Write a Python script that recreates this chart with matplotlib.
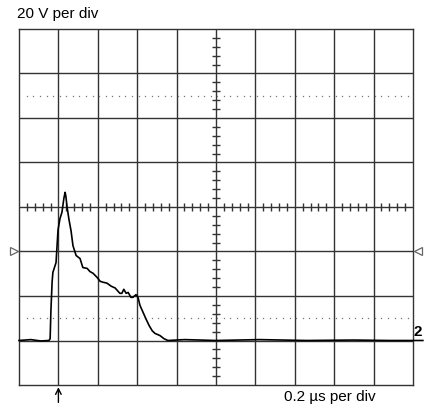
import numpy as np
import matplotlib
matplotlib.use("Agg")
import matplotlib.pyplot as plt

plt.rcParams['font.family'] = ['Liberation Sans', 'DejaVu Sans']

# screen: 10 x 8 divisions, trace (x, y in divisions)
trace_x = [0.00, 0.30, 0.55, 0.76, 0.79, 0.81, 0.84, 0.86, 0.94, 0.99, 1.04,
           1.09, 1.14, 1.17, 1.19, 1.22, 1.27, 1.32, 1.37, 1.45, 1.55, 1.62,
           1.73, 1.80, 1.88, 1.98, 2.06, 2.13, 2.23, 2.34, 2.44, 2.56, 2.61,
           2.66, 2.72, 2.77, 2.84, 2.89, 2.97, 3.02, 3.07, 3.15, 3.22, 3.30,
           3.38, 3.45, 3.58, 3.68, 3.78, 4.20, 5.00, 6.10, 7.30, 8.50, 9.40,
           10.25]
trace_y = [1.00, 1.02, 0.99, 1.00, 1.04, 1.67, 2.31, 2.53, 2.75, 3.48, 3.74,
           3.88, 4.20, 4.33, 4.24, 4.00, 3.71, 3.47, 3.13, 2.91, 2.84, 2.64,
           2.62, 2.55, 2.51, 2.42, 2.33, 2.31, 2.29, 2.22, 2.18, 2.06, 2.06,
           2.15, 2.06, 2.08, 1.97, 1.97, 2.03, 1.97, 1.79, 1.63, 1.49, 1.34,
           1.22, 1.16, 1.11, 1.04, 1.00, 1.02, 1.00, 1.02, 1.00, 1.01, 1.00,
           1.00]

n_xdiv = 10
n_ydiv = 8
dotted_levels = [1.5, 6.5]
ref_level = 3.0      # the small triangles
ground_level = 1.0   # channel 2 marker
trigger_pos = 1.0    # arrow under the screen

top_label = "20 V per div"
bottom_label = "0.2 µs per div"
channel_label = "2"

grid_col = '#333333'

fig = plt.figure(figsize=(4.24, 4.11), dpi=100)
ax = fig.add_axes([19 / 424, 26 / 411, 394 / 424, 356 / 411])
ax.set_xlim(0, n_xdiv)
ax.set_ylim(0, n_ydiv)
ax.set_xticks([])
ax.set_yticks([])
for s in ax.spines.values():
    s.set_color(grid_col)
    s.set_linewidth(1.0)

# major grid
for i in range(1, n_xdiv):
    ax.axvline(i, color=grid_col, lw=1.0)
for j in range(1, n_ydiv):
    ax.axhline(j, color=grid_col, lw=1.0)

# dotted lines
dot_x = np.arange(0.2, n_xdiv, 1 / 6)
for lev in dotted_levels:
    ax.plot(dot_x, [lev] * len(dot_x), ls='none', marker='s', ms=0.9,
            color='#777777', mew=0)

# ticks on the centre cross
cx, cy = n_xdiv / 2, n_ydiv / 2
tx = [t for t in np.arange(0, n_xdiv + 0.01, 0.2) if abs(t - round(t)) > 0.05]
ty = [t for t in np.arange(0, n_ydiv + 0.01, 0.2) if abs(t - round(t)) > 0.05]
ax.vlines(tx, cy - 0.09, cy + 0.09, color=grid_col, lw=1.0)
ax.hlines(ty, cx - 0.09, cx + 0.09, color=grid_col, lw=1.0)

# trace
ax.plot(trace_x, trace_y, color='black', lw=1.2, clip_on=False, zorder=5)

# reference triangles
ax.plot([-0.12], [ref_level], marker='>', ms=6, mfc='white', mec='#666666',
        mew=0.9, clip_on=False)
ax.plot([10.12], [ref_level], marker='<', ms=6, mfc='white', mec='#666666',
        mew=0.9, clip_on=False)

# channel marker
ax.text(10.02, ground_level + 0.03, channel_label, fontsize=11,
        fontweight='bold', ha='left', va='bottom', clip_on=False)

# trigger arrow
ax.annotate('', xy=(trigger_pos, -0.05), xytext=(trigger_pos, -0.39),
            arrowprops=dict(arrowstyle='->', color='black', lw=1.0,
                            mutation_scale=10, shrinkA=0, shrinkB=0),
            annotation_clip=False)

fig.text(17 / 424, 1 - 14 / 411, top_label, fontsize=11, ha='left',
         va='center')
fig.text(284 / 424, 1 - 397 / 411, bottom_label, fontsize=11, ha='left',
         va='center')

fig.savefig('out.png', dpi=100)
